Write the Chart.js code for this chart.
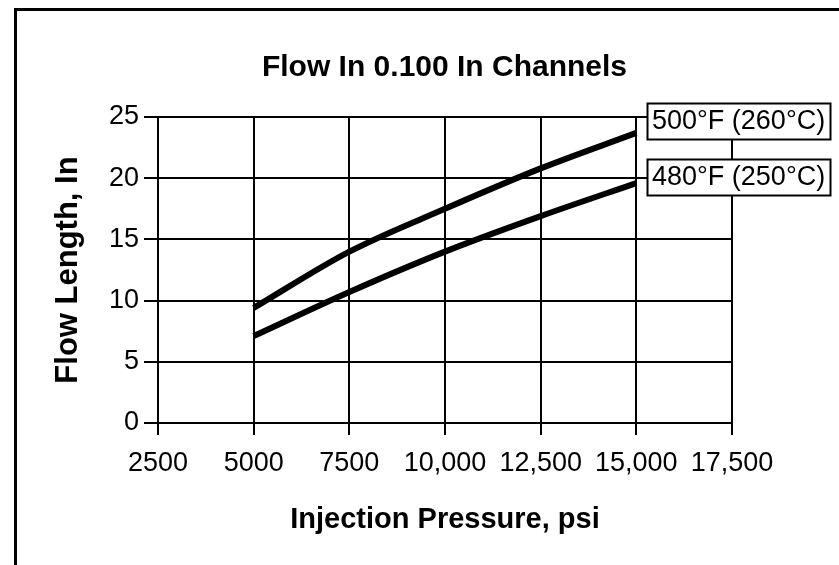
<!DOCTYPE html>
<html>
<head>
<meta charset="utf-8">
<script src="https://cdn.jsdelivr.net/npm/chart.js@4/dist/chart.umd.min.js"></script>
<style>
  html, body { margin: 0; padding: 0; background: #fff; }
  canvas { display: block; }
</style>
</head>
<body>
<canvas id="flowChart" width="839" height="565"></canvas>
<script>
// Data
const pressures = [5000, 7500, 10000, 12500, 15000];
const flow500F = [9.4, 14.0, 17.5, 20.8, 23.7];
const flow480F = [7.1, 10.7, 14.0, 16.9, 19.6];
const seriesLabels = ["500°F (260°C)", "480°F (250°C)"];
const xTickLabels = ["2500", "5000", "7500", "10,000", "12,500", "15,000", "17,500"];

const FONT = "'Liberation Sans', Arial, sans-serif";

function toPoints(values) {
  return pressures.map((p, i) => ({ x: p, y: values[i] }));
}

// White page + the frame line on the left and top
const framePlugin = {
  id: "frame",
  beforeDraw(chart) {
    const ctx = chart.ctx;
    ctx.save();
    ctx.fillStyle = "#fff";
    ctx.fillRect(0, 0, chart.width, chart.height);
    ctx.strokeStyle = "#000";
    ctx.lineWidth = 3;
    ctx.beginPath();
    ctx.moveTo(15.5, chart.height);
    ctx.lineTo(15.5, 9.5);
    ctx.lineTo(chart.width, 9.5);
    ctx.stroke();
    ctx.restore();
  },
};

// Boxed series labels at the end of each line
const endLabels = {
  id: "endLabels",
  afterDatasetsDraw(chart, args, opts) {
    const ctx = chart.ctx;
    ctx.save();
    ctx.font = "27px " + FONT;
    ctx.textBaseline = "middle";
    ctx.textAlign = "left";
    chart.data.datasets.forEach((ds, i) => {
      const meta = chart.getDatasetMeta(i);
      const pt = meta.data[meta.data.length - 1];
      const text = ds.label;
      const w = Math.round(ctx.measureText(text).width + 10);
      const h = 36;
      const left = Math.round(pt.x + 11);
      const cy = Math.round(pt.y + opts.dy[i]);
      ctx.fillStyle = "#fff";
      ctx.fillRect(left, cy - h / 2, w, h);
      ctx.strokeStyle = "#000";
      ctx.lineWidth = 2;
      ctx.strokeRect(left + 0.5, cy - h / 2 + 0.5, w, h);
      ctx.fillStyle = "#000";
      ctx.fillText(text, left + 5, cy + 1);
    });
    ctx.restore();
  },
};

const ctx = document.getElementById("flowChart").getContext("2d");
const chart = new Chart(ctx, {
  type: "line",
  data: {
    datasets: [
      {
        label: seriesLabels[0],
        data: toPoints(flow500F),
        borderColor: "#000",
        borderWidth: 6,
        pointRadius: 0,
        cubicInterpolationMode: "monotone",
      },
      {
        label: seriesLabels[1],
        data: toPoints(flow480F),
        borderColor: "#000",
        borderWidth: 6,
        pointRadius: 0,
        cubicInterpolationMode: "monotone",
      },
    ],
  },
  options: {
    responsive: false,
    animation: false,
    devicePixelRatio: 1,
    layout: { padding: { left: 50, right: 0, top: 0, bottom: 24 } },
    plugins: {
      legend: { display: false },
      tooltip: { enabled: false },
      title: {
        display: true,
        text: "Flow In 0.100 In Channels",
        color: "#000",
        font: { family: FONT, size: 30, weight: "bold" },
        padding: { top: 50, bottom: 31 },
      },
      endLabels: { dy: [-12, -6] },
    },
    scales: {
      x: {
        type: "linear",
        min: 2500,
        max: 17500,
        grid: { color: "#000", lineWidth: 2, tickLength: 12 },
        border: { color: "#000", width: 2 },
        ticks: {
          stepSize: 2500,
          autoSkip: false,
          maxRotation: 0,
          padding: 12,
          color: "#000",
          font: { family: FONT, size: 27 },
          callback: function (value, index) {
            return xTickLabels[index];
          },
        },
        title: {
          display: true,
          text: "Injection Pressure, psi",
          color: "#000",
          font: { family: FONT, size: 29, weight: "bold" },
          padding: { top: 4, bottom: 4 },
        },
        afterFit(scale) {
          scale.height = 118;
        },
      },
      y: {
        min: 0,
        max: 25,
        grid: { color: "#000", lineWidth: 2, tickLength: 14 },
        border: { color: "#000", width: 2 },
        ticks: {
          stepSize: 5,
          padding: 5,
          color: "#000",
          font: { family: FONT, size: 27 },
        },
        title: {
          display: true,
          text: "Flow Length, In",
          color: "#000",
          font: { family: FONT, size: 31, weight: "bold" },
          padding: { top: 0, bottom: 0 },
        },
        afterFit(scale) {
          scale.width = 108;
        },
      },
      y2: {
        position: "right",
        grid: { display: false },
        border: { display: false },
        ticks: { display: false },
        afterFit(scale) {
          scale.width = 107;
        },
      },
    },
  },
  plugins: [framePlugin, endLabels],
});
</script>
</body>
</html>
